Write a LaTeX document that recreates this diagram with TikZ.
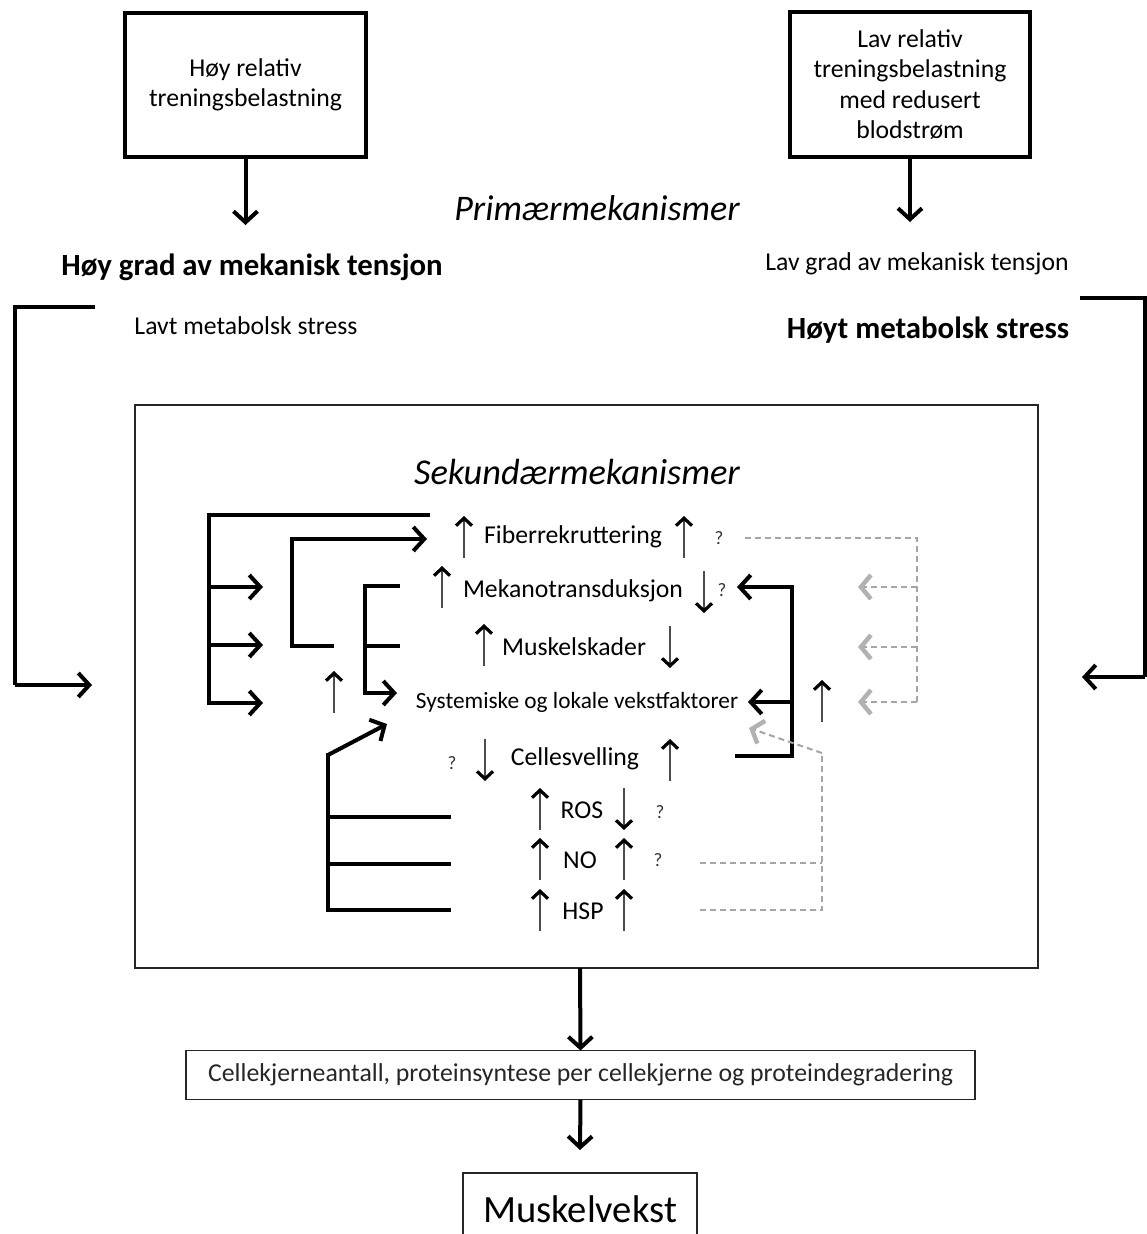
\documentclass[tikz,border=0pt]{standalone}
\usepackage{fontspec}
\setmainfont{Carlito}
\usetikzlibrary{arrows.meta}
\begin{document}
\begin{tikzpicture}[x=1pt,y=-1pt,
  every node/.style={inner sep=0pt,outer sep=0pt,align=center},
  heavy/.style={line width=4pt,line join=miter},
  harr/.style={heavy,-{Straight Barb[length=11pt,width=24pt]}},
  boxheavy/.style={draw,line width=4pt},
  boxthin/.style={draw,line width=1.5pt,black!85},
  gline/.style={line width=2pt,draw=black!35,dash pattern=on 6pt off 4pt},
  garr/.style={gline,-{Straight Barb[length=10pt,width=24pt,line width=4.5pt,color=black!30]}},
  txt/.style={font=\fontsize{25.7}{30.5}\selectfont},
  qm/.style={font=\fontsize{19}{21}\selectfont,text=black!80},
  uarr/.pic={\draw[line width=1.6pt,black!70,-{Straight Barb[length=7.5pt,width=16pt,line width=3.2pt,black]}] (0,21) -- (0,-21);},
  darr/.pic={\draw[line width=1.6pt,black!70,-{Straight Barb[length=7.5pt,width=16pt,line width=3.2pt,black]}] (0,-21) -- (0,21);}
]
\useasboundingbox (0,0) rectangle (1147,1234);

% top boxes
\node[boxheavy,minimum width=241pt,minimum height=144pt,txt] (b1) at (245.5,85) {Høy relativ\\treningsbelastning};
\node[boxheavy,minimum width=240pt,minimum height=145pt,txt] (b2) at (910,84.5) {Lav relativ\\treningsbelastning\\med redusert\\blodstrøm};
\coordinate (b1t) at (245.5,225);
\coordinate (b2t) at (910,222);
\draw[harr] (b1.south) -- (b1t);
\draw[harr] (b2.south) -- (b2t);

\node[font=\fontsize{36}{40}\selectfont\itshape] (prim) at (597,208) {Primærmekanismer};
\node[font=\fontsize{30.8}{34}\selectfont\bfseries] (hgrad) at (252,267) {Høy grad av mekanisk tensjon};
\node[txt] (lavt) at (246,326) {Lavt metabolsk stress};
\node[txt] (lgrad) at (917,264) {Lav grad av mekanisk tensjon};
\node[font=\fontsize{30.8}{34}\selectfont\bfseries] (hoyt) at (928,330) {Høyt metabolsk stress};

% big box
\node[boxthin,minimum width=903pt,minimum height=563pt] (big) at (586.5,686.5) {};
\node[font=\fontsize{36.4}{40}\selectfont\itshape] (sek) at (577,472) {Sekundærmekanismer};

% outer brackets
\coordinate (lA) at (95,307);
\coordinate (lB) at (92,685);
\draw[heavy] (lA) -- (15,307) -- (15,685);
\draw[harr] (15,685) -- (lB);
\coordinate (rA) at (1080,298);
\coordinate (rB) at (1082,677);
\draw[heavy] (rA) -- (1145,298) -- (1145,677);
\draw[harr] (1145,677) -- (rB);

% inner texts
\node[txt] (fib) at (573,537) {Fiberrekruttering};
\node[txt] (mek) at (573,591) {Mekanotransduksjon};
\node[txt] (mus) at (574,647) {Muskelskader};
\node[font=\fontsize{23.3}{26}\selectfont] (sys) at (577,702) {Systemiske og lokale vekstfaktorer};
\node[txt] (cel) at (575,759) {Cellesvelling};
\node[txt] (ros) at (582,810) {ROS};
\node[txt] (no) at (580,860) {NO};
\node[txt] (hsp) at (583,911) {HSP};

\node[qm] (q1) at (719,538) {?};
\node[qm] (q2) at (722,590) {?};
\node[qm] (q3) at (452,763) {?};
\node[qm] (q4) at (660,812) {?};
\node[qm] (q5) at (658,860) {?};

% small arrows
\pic at (464,537) {uarr};
\pic at (684,537) {uarr};
\pic at (442,587) {uarr};
\pic at (704,592) {darr};
\pic at (484,645) {uarr};
\pic at (670,647) {darr};
\pic at (334,692) {uarr};
\pic at (822,701) {uarr};
\pic at (485,760) {darr};
\pic at (670,760) {uarr};
\pic at (540,809) {uarr};
\pic at (624,809) {darr};
\pic at (540,859) {uarr};
\pic at (624,859) {uarr};
\pic at (540,910) {uarr};
\pic at (624,910) {uarr};

% left connector A
\coordinate (aS) at (430,515);
\draw[heavy] (aS) -- (209,515) -- (209,703);
\draw[harr] (209,587) -- (263,587);
\draw[harr] (209,645) -- (263,645);
\draw[harr] (207,703) -- (263,703);
% connector B
\coordinate (bS) at (334,646);
\coordinate (bE) at (427,539);
\draw[heavy] (bS) -- (292,646) -- (292,539);
\draw[harr] (290,539) -- (bE);
% connector C
\coordinate (cS) at (400,586);
\draw[heavy] (cS) -- (365,586) -- (365,693);
\draw[heavy] (365,646) -- (400,646);
\draw[harr] (363,693) -- (397,693);
% connector D
\coordinate (dE) at (387,724);
\draw[heavy] (451,910) -- (328,910) -- (328,753);
\draw[heavy] (451,864) -- (328,864);
\draw[heavy] (451,817) -- (328,817);
\draw[harr] (328,755) -- (dE);

% right black connector
\coordinate (eS) at (735,756);
\coordinate (eT) at (737,587);
\draw[heavy] (eS) -- (792,756) -- (792,587);
\draw[harr] (794,587) -- (eT);
\draw[harr] (792,702) -- (748,702);

% grey dashed connectors
\draw[gline] (745,538) -- (917,538) -- (917,702);
\draw[garr] (917,587) -- (858,587);
\draw[garr] (917,647) -- (858,647);
\draw[garr] (917,702) -- (858,702);
\coordinate (gT) at (749,728);
\draw[gline] (700,910) -- (822,910) -- (822,753);
\draw[gline] (700,863) -- (822,863);
\draw[garr] (822,753) -- (gT);

% bottom
\node[boxthin,minimum width=789pt,minimum height=49pt,font=\fontsize{25.8}{28}\selectfont] (cell) at (580.5,1075) {Cellekjerneantall, proteinsyntese per cellekjerne og proteindegradering};
\draw[harr] (580,968) -- (cell.north);
\node[font=\fontsize{38.6}{42}\selectfont] (mv) at (580,1209) {Muskelvekst};
\draw[harr] (cell.south) -- (580,1150);
\draw[line width=1.5pt,black!85] (463,1240) -- (463,1173) -- (697,1173) -- (697,1240);
\end{tikzpicture}
\end{document}
